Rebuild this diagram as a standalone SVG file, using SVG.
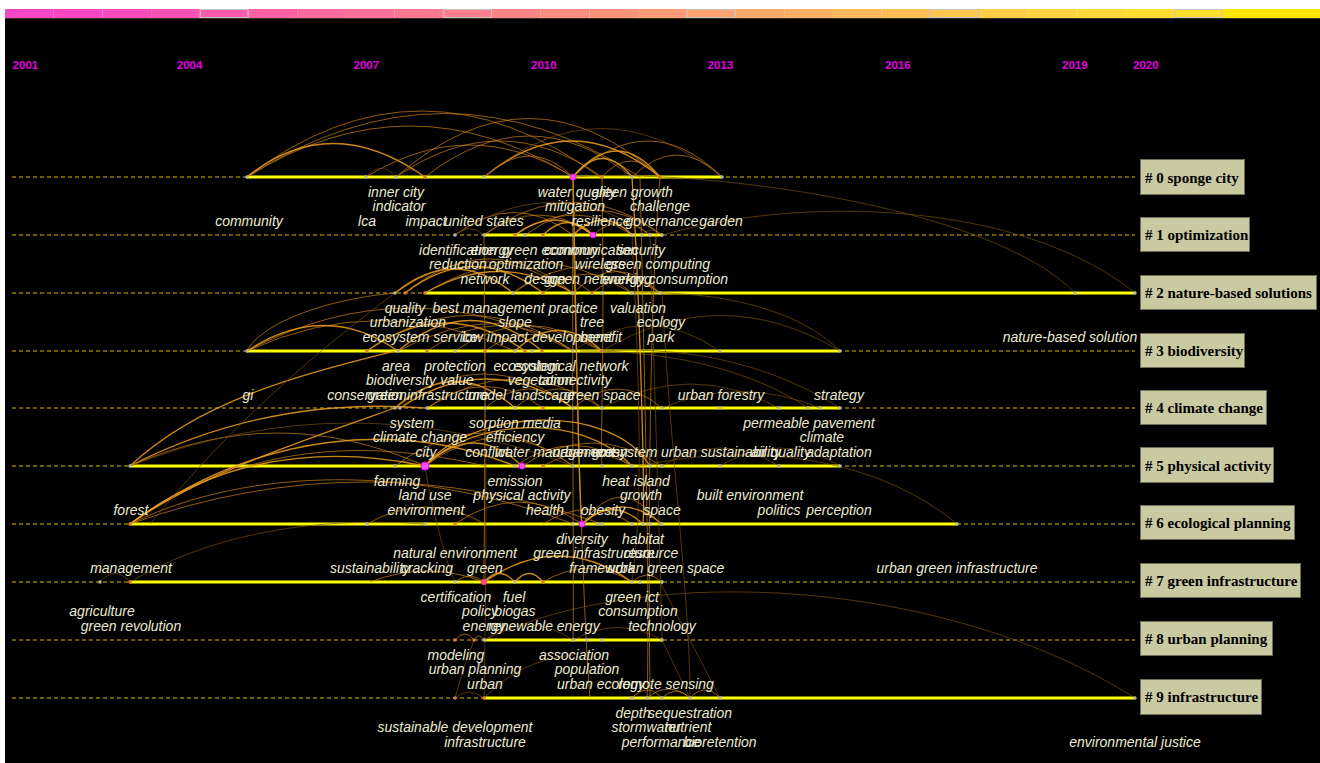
<svg xmlns="http://www.w3.org/2000/svg" width="1320" height="763" viewBox="0 0 1320 763">
<style>
.bg{fill:#000}
.seg{stroke:none}
.segb{fill:none;stroke:#c4c4c4;stroke-width:1}
.yr{font-family:"Liberation Sans",Arial,sans-serif;font-weight:bold;font-size:11.5px;fill:#e000e0}
.dash{stroke:#d8bd00;stroke-width:1;stroke-dasharray:4 3;fill:none}
.solid{stroke:#ffff00;stroke-width:3;fill:none}
.e1{fill:none;stroke:#f0a020;stroke-width:1.3;opacity:.85}
.e2{fill:none;stroke:#cc8214;stroke-width:1;opacity:.7}
.e3{fill:none;stroke:#7a5010;stroke-width:.9;opacity:.75}
.n{fill:#b8b8b0}
.o{fill:#e07a3a}
.m{fill:#ff50ff;stroke:#ff00ff;stroke-width:1}
.lbl{font-family:"Liberation Sans",Arial,sans-serif;font-style:italic;font-size:14px;fill:#ebead2;text-anchor:middle}
.box{fill:#c9c9a2;stroke:#707058;stroke-width:1}
.bt{font-family:"Liberation Serif","Times New Roman",serif;font-weight:bold;font-size:15px;fill:#000}
</style>
<rect x="0" y="0" width="1320" height="763" fill="#fff"/>
<rect class="bg" x="5" y="18" width="1315" height="745"/>
<g id="colorbar">
<rect class="seg" x="5" y="9" width="48.7" height="9" fill="#f646c8"/>
<rect class="seg" x="53.7" y="9" width="48.7" height="9" fill="#f948c2"/>
<rect class="seg" x="102.4" y="9" width="48.7" height="9" fill="#fc4cba"/>
<rect class="seg" x="151.1" y="9" width="48.7" height="9" fill="#ff52b2"/>
<rect class="seg" x="199.8" y="9" width="48.7" height="9" fill="#ff5aab"/>
<rect class="seg" x="248.5" y="9" width="48.7" height="9" fill="#ff62a5"/>
<rect class="seg" x="297.2" y="9" width="48.7" height="9" fill="#ff6aa0"/>
<rect class="seg" x="345.9" y="9" width="48.7" height="9" fill="#ff719a"/>
<rect class="seg" x="394.6" y="9" width="48.7" height="9" fill="#ff7894"/>
<rect class="seg" x="443.3" y="9" width="48.7" height="9" fill="#ff7f8e"/>
<rect class="seg" x="492" y="9" width="48.7" height="9" fill="#ff8688"/>
<rect class="seg" x="540.7" y="9" width="48.7" height="9" fill="#ff8d82"/>
<rect class="seg" x="589.4" y="9" width="48.7" height="9" fill="#ff947c"/>
<rect class="seg" x="638.1" y="9" width="48.7" height="9" fill="#ff9b76"/>
<rect class="seg" x="686.8" y="9" width="48.7" height="9" fill="#ffa270"/>
<rect class="seg" x="735.5" y="9" width="48.7" height="9" fill="#ffa96a"/>
<rect class="seg" x="784.2" y="9" width="48.7" height="9" fill="#ffb064"/>
<rect class="seg" x="832.9" y="9" width="48.7" height="9" fill="#ffb85d"/>
<rect class="seg" x="881.6" y="9" width="48.7" height="9" fill="#ffbf56"/>
<rect class="seg" x="930.3" y="9" width="48.7" height="9" fill="#ffc64f"/>
<rect class="seg" x="979" y="9" width="48.7" height="9" fill="#ffcc48"/>
<rect class="seg" x="1027.7" y="9" width="48.7" height="9" fill="#ffd241"/>
<rect class="seg" x="1076.4" y="9" width="48.7" height="9" fill="#ffd83a"/>
<rect class="seg" x="1125.1" y="9" width="48.7" height="9" fill="#ffdd33"/>
<rect class="seg" x="1173.8" y="9" width="48.7" height="9" fill="#ffe12c"/>
<rect class="seg" x="1222.5" y="9" width="97.5" height="9" fill="#ffe600"/>
<rect class="segb" x="200.3" y="9.5" width="47.7" height="8"/>
<rect class="segb" x="443.8" y="9.5" width="47.7" height="8"/>
<rect class="segb" x="687.3" y="9.5" width="47.7" height="8"/>
<rect class="segb" x="930.8" y="9.5" width="47.7" height="8"/>
<rect class="segb" x="1174.3" y="9.5" width="47.7" height="8"/>
<line x1="5" y1="18.5" x2="1320" y2="18.5" stroke="#3a3020" stroke-width="1"/>
</g>
<g id="years">
<text class="yr" x="12.6" y="69">2001</text>
<text class="yr" x="176.8" y="69">2004</text>
<text class="yr" x="353.5" y="69">2007</text>
<text class="yr" x="531" y="69">2010</text>
<text class="yr" x="707.6" y="69">2013</text>
<text class="yr" x="885" y="69">2016</text>
<text class="yr" x="1062" y="69">2019</text>
<text class="yr" x="1133" y="69">2020</text>
</g>
<g id="timelines">
<line class="dash" x1="12" y1="177" x2="1135" y2="177"/>
<line class="dash" x1="12" y1="235" x2="1135" y2="235"/>
<line class="dash" x1="12" y1="293" x2="1135" y2="293"/>
<line class="dash" x1="12" y1="351" x2="1135" y2="351"/>
<line class="dash" x1="12" y1="408" x2="1135" y2="408"/>
<line class="dash" x1="12" y1="466" x2="1135" y2="466"/>
<line class="dash" x1="12" y1="524" x2="1135" y2="524"/>
<line class="dash" x1="12" y1="582" x2="1135" y2="582"/>
<line class="dash" x1="12" y1="640" x2="1135" y2="640"/>
<line class="dash" x1="12" y1="698" x2="1135" y2="698"/>
<line class="solid" x1="247" y1="177" x2="722" y2="177"/>
<line class="solid" x1="484" y1="235" x2="663" y2="235"/>
<line class="solid" x1="425" y1="293" x2="1135" y2="293"/>
<line class="solid" x1="247" y1="351" x2="840" y2="351"/>
<line class="solid" x1="427" y1="408" x2="840" y2="408"/>
<line class="solid" x1="130" y1="466" x2="840" y2="466"/>
<line class="solid" x1="130" y1="524" x2="957" y2="524"/>
<line class="solid" x1="130" y1="582" x2="663" y2="582"/>
<line class="solid" x1="484" y1="640" x2="663" y2="640"/>
<line class="solid" x1="484" y1="698" x2="1135" y2="698"/>
</g>
<g id="connectors">
<path class="e2" d="M247 177 Q410 75 573 177"/>
<path class="e2" d="M247 177 Q445 50 640 177"/>
<path class="e2" d="M247 177 Q420 45 600 177"/>
<path class="e1" d="M247 177 Q330 110 425 177"/>
<path class="e2" d="M366 177 Q470 113 573 177"/>
<path class="e2" d="M396 177 Q500 105 602 177"/>
<path class="e2" d="M396 177 Q530 60 660 177"/>
<path class="e2" d="M425 177 Q530 95 632 177"/>
<path class="e2" d="M484 177 Q530 135 573 177"/>
<path class="e1" d="M484 177 Q572 105 660 177"/>
<path class="e3" d="M484 177 Q600 80 722 177"/>
<path class="e1" d="M573 177 Q602 140 632 177"/>
<path class="e1" d="M573 177 Q617 125 660 177"/>
<path class="e2" d="M602 177 Q631 145 660 177"/>
<path class="e2" d="M632 177 Q677 133 722 177"/>
<path class="e2" d="M573 177 Q648 105 722 177"/>
<path class="e3" d="M366 177 Q381 160 396 177"/>
<path class="e3" d="M396 177 Q410 162 425 177"/>
<path class="e3" d="M573 177 C700 168 990 205 1075 293"/>
<path class="e3" d="M663 235 C800 195 1020 200 1135 293"/>
<path class="e2" d="M455 235 Q514 190 573 235"/>
<path class="e2" d="M484 235 Q538 195 593 235"/>
<path class="e2" d="M515 235 Q574 195 632 235"/>
<path class="e2" d="M484 235 Q573 170 662 235"/>
<path class="e3" d="M455 235 Q553 170 650 235"/>
<path class="e1" d="M515 235 Q554 205 593 235"/>
<path class="e1" d="M543 235 Q568 210 593 235"/>
<path class="e1" d="M573 235 Q603 205 632 235"/>
<path class="e2" d="M593 235 Q622 210 650 235"/>
<path class="e2" d="M525 235 Q594 185 662 235"/>
<path class="e3" d="M455 235 Q469 222 484 235"/>
<path class="e3" d="M642 235 Q652 225 662 235"/>
<path class="e1" d="M395 293 Q454 245 513 293"/>
<path class="e1" d="M405 293 Q474 240 543 293"/>
<path class="e1" d="M425 293 Q499 250 573 293"/>
<path class="e2" d="M395 293 Q484 230 573 293"/>
<path class="e2" d="M405 293 Q489 225 573 293"/>
<path class="e2" d="M425 293 Q528 230 632 293"/>
<path class="e2" d="M513 293 Q587 240 660 293"/>
<path class="e2" d="M513 293 Q552 260 592 293"/>
<path class="e2" d="M543 293 Q588 255 632 293"/>
<path class="e2" d="M573 293 Q617 250 660 293"/>
<path class="e2" d="M592 293 Q626 265 660 293"/>
<path class="e3" d="M632 293 C720 290 800 310 840 351"/>
<path class="e2" d="M247 351 C260 325 320 300 395 293"/>
<path class="e2" d="M247 351 Q410 265 573 351"/>
<path class="e2" d="M247 351 Q380 290 515 351"/>
<path class="e1" d="M247 351 Q325 300 398 351"/>
<path class="e1" d="M398 351 Q470 290 542 351"/>
<path class="e1" d="M367 351 Q445 295 525 351"/>
<path class="e2" d="M367 351 Q470 280 573 351"/>
<path class="e2" d="M398 351 Q500 295 602 351"/>
<path class="e2" d="M427 351 Q500 300 573 351"/>
<path class="e2" d="M455 351 Q528 300 602 351"/>
<path class="e2" d="M485 351 Q529 318 573 351"/>
<path class="e1" d="M515 351 Q558 310 602 351"/>
<path class="e3" d="M573 351 Q646 300 720 351"/>
<path class="e3" d="M602 351 Q721 280 840 351"/>
<path class="e1" d="M395 408 Q455 355 515 408"/>
<path class="e1" d="M400 408 Q486 350 573 408"/>
<path class="e2" d="M395 408 Q484 340 573 408"/>
<path class="e2" d="M427 408 Q515 350 602 408"/>
<path class="e2" d="M427 408 Q485 365 543 408"/>
<path class="e2" d="M485 408 Q529 370 573 408"/>
<path class="e2" d="M515 408 Q558 370 602 408"/>
<path class="e2" d="M573 408 Q617 370 662 408"/>
<path class="e3" d="M602 408 Q691 360 779 408"/>
<path class="e3" d="M600 351 C700 345 780 370 840 408"/>
<path class="e3" d="M580 351 C680 350 760 375 808 408"/>
<path class="e3" d="M662 408 Q740 375 820 408"/>
<path class="e1" d="M130 466 C200 400 300 375 395 351"/>
<path class="e1" d="M130 466 C220 420 320 400 425 408"/>
<path class="e2" d="M130 466 Q278 400 425 466"/>
<path class="e3" d="M130 466 Q350 380 573 466"/>
<path class="e2" d="M395 466 Q484 400 573 466"/>
<path class="e1" d="M425 466 Q474 420 522 466"/>
<path class="e1" d="M425 466 C470 420 580 410 632 466"/>
<path class="e1" d="M425 466 C470 410 610 400 650 466"/>
<path class="e2" d="M425 466 Q499 410 573 466"/>
<path class="e2" d="M515 466 Q574 425 632 466"/>
<path class="e2" d="M522 466 Q592 420 662 466"/>
<path class="e2" d="M543 466 Q588 440 632 466"/>
<path class="e3" d="M662 466 Q721 430 779 466"/>
<path class="e3" d="M720 466 Q780 430 840 466"/>
<path class="e3" d="M640 466 C760 440 880 460 957 524"/>
<path class="e3" d="M395 466 Q410 455 425 466"/>
<path class="e1" d="M130 524 C200 470 300 440 425 466"/>
<path class="e1" d="M130 524 C260 430 400 420 515 466"/>
<path class="e2" d="M130 524 C220 460 330 430 485 466"/>
<path class="e1" d="M130 524 C200 475 290 445 395 408"/>
<path class="e2" d="M130 524 C250 465 420 465 573 524"/>
<path class="e2" d="M130 524 Q365 440 602 524"/>
<path class="e3" d="M150 524 Q250 400 395 293"/>
<path class="e1" d="M582 524 Q612 495 643 524"/>
<path class="e1" d="M582 524 Q622 490 662 524"/>
<path class="e2" d="M582 524 Q621 470 660 524"/>
<path class="e2" d="M543 524 Q588 495 632 524"/>
<path class="e2" d="M367 524 Q426 490 485 524"/>
<path class="e2" d="M455 524 Q519 480 582 524"/>
<path class="e1" d="M484 582 Q558 530 632 582"/>
<path class="e1" d="M484 582 Q499 565 515 582"/>
<path class="e1" d="M515 582 Q529 565 543 582"/>
<path class="e2" d="M455 582 Q470 570 484 582"/>
<path class="e2" d="M543 582 Q588 555 632 582"/>
<path class="e2" d="M632 582 Q647 568 662 582"/>
<path class="e3" d="M100 582 Q115 565 130 582"/>
<path class="e3" d="M130 582 C200 540 300 515 425 524"/>
<path class="e2" d="M370 582 Q427 560 484 582"/>
<path class="e3" d="M425 466 C430 500 445 560 455 582"/>
<path class="e2" d="M455 640 Q465 628 474 640"/>
<path class="e2" d="M474 640 Q479 632 484 640"/>
<path class="e3" d="M484 640 Q528 610 573 640"/>
<path class="e3" d="M573 640 Q618 615 662 640"/>
<path class="e3" d="M484 640 C650 560 950 580 1135 698"/>
<path class="e2" d="M632 698 Q647 682 662 698"/>
<path class="e2" d="M662 698 Q676 684 690 698"/>
<path class="e2" d="M690 698 Q705 682 720 698"/>
<path class="e2" d="M647 698 Q669 680 690 698"/>
<path class="e3" d="M455 698 Q469 686 484 698"/>
<path class="e3" d="M455 698 Q462 670 474 640"/>
<path class="e3" d="M484 698 Q520 660 573 655"/>
<path class="e1" d="M573 177 C576 300 578 500 582 524"/>
<path class="e2" d="M573 177 C572 400 574 600 573 640"/>
<path class="e2" d="M573 235 C578 400 582 600 590 698"/>
<path class="e2" d="M484 235 C486 400 484 550 484 582"/>
<path class="e3" d="M484 293 C487 450 486 600 484 698"/>
<path class="e1" d="M632 177 C640 300 645 500 643 524"/>
<path class="e2" d="M660 177 C650 300 648 500 650 698"/>
<path class="e2" d="M640 177 C645 400 650 600 647 698"/>
<path class="e3" d="M650 235 C655 400 660 550 662 640"/>
<path class="e2" d="M602 177 C605 350 600 450 602 466"/>
<path class="e3" d="M632 235 C640 400 643 500 632 582"/>
<path class="e3" d="M662 293 C670 450 690 600 690 698"/>
<path class="e3" d="M662 640 L690 698"/>
<path class="e3" d="M660 582 Q690 640 720 698"/>
</g>
<g id="nodes">
<circle class="n" cx="247" cy="177" r="1.7"/><circle class="n" cx="366" cy="177" r="1.7"/><circle class="n" cx="396" cy="177" r="1.7"/><circle class="o" cx="425" cy="177" r="1.8"/><circle class="n" cx="484" cy="177" r="1.7"/><circle class="m" cx="573" cy="177" r="3"/><circle class="o" cx="602" cy="177" r="1.8"/><circle class="n" cx="632" cy="177" r="1.7"/><circle class="o" cx="660" cy="177" r="1.8"/><circle class="n" cx="722" cy="177" r="1.7"/>
<circle class="n" cx="455" cy="235" r="1.7"/><circle class="n" cx="484" cy="235" r="1.7"/><circle class="o" cx="515" cy="235" r="1.8"/><circle class="n" cx="525" cy="235" r="1.7"/><circle class="o" cx="543" cy="235" r="1.8"/><circle class="n" cx="573" cy="235" r="1.7"/><circle class="m" cx="593" cy="235" r="2.8"/><circle class="n" cx="632" cy="235" r="1.7"/><circle class="n" cx="642" cy="235" r="1.7"/><circle class="n" cx="650" cy="235" r="1.7"/><circle class="n" cx="662" cy="235" r="1.7"/>
<circle class="n" cx="395" cy="293" r="1.7"/><circle class="o" cx="405" cy="293" r="1.8"/><circle class="o" cx="425" cy="293" r="1.8"/><circle class="n" cx="513" cy="293" r="1.7"/><circle class="o" cx="543" cy="293" r="1.8"/><circle class="n" cx="573" cy="293" r="1.7"/><circle class="o" cx="592" cy="293" r="1.8"/><circle class="n" cx="602" cy="293" r="1.7"/><circle class="n" cx="632" cy="293" r="1.7"/><circle class="n" cx="660" cy="293" r="1.7"/><circle class="n" cx="1075" cy="293" r="1.7"/><circle class="n" cx="1135" cy="293" r="1.7"/>
<circle class="n" cx="247" cy="351" r="1.7"/><circle class="o" cx="367" cy="351" r="1.8"/><circle class="n" cx="398" cy="351" r="1.7"/><circle class="o" cx="427" cy="351" r="1.8"/><circle class="n" cx="455" cy="351" r="1.7"/><circle class="o" cx="485" cy="351" r="1.8"/><circle class="n" cx="515" cy="351" r="1.7"/><circle class="o" cx="525" cy="351" r="1.8"/><circle class="n" cx="532" cy="351" r="1.7"/><circle class="o" cx="542" cy="351" r="1.8"/><circle class="n" cx="573" cy="351" r="1.7"/><circle class="o" cx="602" cy="351" r="1.8"/><circle class="n" cx="720" cy="351" r="1.7"/><circle class="n" cx="840" cy="351" r="1.7"/>
<circle class="n" cx="395" cy="408" r="1.7"/><circle class="n" cx="400" cy="408" r="1.7"/><circle class="n" cx="427" cy="408" r="1.7"/><circle class="n" cx="485" cy="408" r="1.7"/><circle class="n" cx="515" cy="408" r="1.7"/><circle class="o" cx="543" cy="408" r="1.8"/><circle class="n" cx="573" cy="408" r="1.7"/><circle class="n" cx="602" cy="408" r="1.7"/><circle class="n" cx="662" cy="408" r="1.7"/><circle class="n" cx="720" cy="408" r="1.7"/><circle class="n" cx="779" cy="408" r="1.7"/><circle class="n" cx="808" cy="408" r="1.7"/><circle class="n" cx="820" cy="408" r="1.7"/><circle class="n" cx="840" cy="408" r="1.7"/>
<circle class="n" cx="130" cy="466" r="1.7"/><circle class="n" cx="395" cy="466" r="1.7"/><circle class="m" cx="425" cy="466" r="4"/><circle class="n" cx="515" cy="466" r="1.7"/><circle class="m" cx="522" cy="466" r="3"/><circle class="o" cx="543" cy="466" r="1.8"/><circle class="n" cx="573" cy="466" r="1.7"/><circle class="n" cx="602" cy="466" r="1.7"/><circle class="n" cx="632" cy="466" r="1.7"/><circle class="n" cx="650" cy="466" r="1.7"/><circle class="n" cx="662" cy="466" r="1.7"/><circle class="n" cx="720" cy="466" r="1.7"/><circle class="n" cx="779" cy="466" r="1.7"/><circle class="n" cx="840" cy="466" r="1.7"/>
<circle class="o" cx="130" cy="524" r="1.8"/><circle class="n" cx="367" cy="524" r="1.7"/><circle class="n" cx="425" cy="524" r="1.7"/><circle class="o" cx="455" cy="524" r="1.8"/><circle class="n" cx="573" cy="524" r="1.7"/><circle class="m" cx="582" cy="524" r="3"/><circle class="n" cx="597" cy="524" r="1.7"/><circle class="n" cx="602" cy="524" r="1.7"/><circle class="n" cx="632" cy="524" r="1.7"/><circle class="n" cx="643" cy="524" r="1.7"/><circle class="n" cx="650" cy="524" r="1.7"/><circle class="n" cx="662" cy="524" r="1.7"/><circle class="n" cx="957" cy="524" r="1.7"/>
<circle class="n" cx="100" cy="582" r="1.7"/><circle class="o" cx="130" cy="582" r="1.8"/><circle class="n" cx="455" cy="582" r="1.7"/><circle class="m" cx="484" cy="582" r="2.8" style="fill:#ff5080;stroke:#ff3070"/><circle class="n" cx="515" cy="582" r="1.7"/><circle class="o" cx="543" cy="582" r="1.8"/><circle class="n" cx="632" cy="582" r="1.7"/><circle class="n" cx="640" cy="582" r="1.7"/><circle class="n" cx="662" cy="582" r="1.7"/>
<circle class="o" cx="455" cy="640" r="1.8"/><circle class="o" cx="474" cy="640" r="1.8"/><circle class="n" cx="484" cy="640" r="1.7"/><circle class="n" cx="573" cy="640" r="1.7"/><circle class="n" cx="587" cy="640" r="1.7"/><circle class="n" cx="602" cy="640" r="1.7"/><circle class="n" cx="662" cy="640" r="1.7"/>
<circle class="o" cx="455" cy="698" r="1.8"/><circle class="o" cx="484" cy="698" r="1.8"/><circle class="n" cx="632" cy="698" r="1.7"/><circle class="n" cx="647" cy="698" r="1.7"/><circle class="n" cx="662" cy="698" r="1.7"/><circle class="n" cx="690" cy="698" r="1.7"/><circle class="n" cx="720" cy="698" r="1.7"/><circle class="n" cx="1135" cy="698" r="1.7"/>
</g>
<g id="labels">
<text class="lbl" x="396" y="197">inner city</text>
<text class="lbl" x="399" y="211">indicator</text>
<text class="lbl" x="367" y="226">lca</text>
<text class="lbl" x="249" y="226">community</text>
<text class="lbl" x="426" y="226">impact</text>
<text class="lbl" x="484" y="226">united states</text>
<text class="lbl" x="577" y="197">water quality</text>
<text class="lbl" x="632" y="197">green growth</text>
<text class="lbl" x="575" y="211">mitigation</text>
<text class="lbl" x="660" y="211">challenge</text>
<text class="lbl" x="601" y="226">resilience</text>
<text class="lbl" x="662" y="226">governance</text>
<text class="lbl" x="721" y="226">garden</text>

<text class="lbl" x="458" y="255">identification</text>
<text class="lbl" x="492" y="255">energy</text>
<text class="lbl" x="550" y="255">green economy</text>
<text class="lbl" x="591" y="255">communication</text>
<text class="lbl" x="641" y="255">security</text>
<text class="lbl" x="458" y="269">reduction</text>
<text class="lbl" x="526" y="269">optimization</text>
<text class="lbl" x="600" y="269">wireless</text>
<text class="lbl" x="658" y="269">green computing</text>
<text class="lbl" x="485" y="284">network</text>
<text class="lbl" x="545" y="284">design</text>
<text class="lbl" x="598" y="284">green networking</text>
<text class="lbl" x="665" y="284">energy consumption</text>

<text class="lbl" x="405" y="313">quality</text>
<text class="lbl" x="515" y="313">best management practice</text>
<text class="lbl" x="638" y="313">valuation</text>
<text class="lbl" x="408" y="327">urbanization</text>
<text class="lbl" x="515" y="327">slope</text>
<text class="lbl" x="592" y="327">tree</text>
<text class="lbl" x="661" y="327">ecology</text>
<text class="lbl" x="420" y="342">ecosystem service</text>
<text class="lbl" x="537" y="342">low impact development</text>
<text class="lbl" x="601" y="342">benefit</text>
<text class="lbl" x="661" y="342">park</text>
<text class="lbl" x="1070" y="342">nature-based solution</text>

<text class="lbl" x="396" y="371">area</text>
<text class="lbl" x="455" y="371">protection</text>
<text class="lbl" x="527" y="371">ecosystem</text>
<text class="lbl" x="571" y="371">ecological network</text>
<text class="lbl" x="401" y="385">biodiversity</text>
<text class="lbl" x="457" y="385">value</text>
<text class="lbl" x="540" y="385">vegetation</text>
<text class="lbl" x="575" y="385">connectivity</text>
<text class="lbl" x="367" y="400">conservation</text>
<text class="lbl" x="428" y="400">green infrastructure</text>
<text class="lbl" x="487" y="400">model</text>
<text class="lbl" x="543" y="400">landscape</text>
<text class="lbl" x="602" y="400">green space</text>
<text class="lbl" x="721" y="400">urban forestry</text>
<text class="lbl" x="839" y="400">strategy</text>
<text class="lbl" x="248" y="400">gi</text>

<text class="lbl" x="412" y="428">system</text>
<text class="lbl" x="515" y="428">sorption media</text>
<text class="lbl" x="809" y="428">permeable pavement</text>
<text class="lbl" x="420" y="442">climate change</text>
<text class="lbl" x="515" y="442">efficiency</text>
<text class="lbl" x="822" y="442">climate</text>
<text class="lbl" x="426" y="457">city</text>
<text class="lbl" x="487" y="457">conflict</text>
<text class="lbl" x="555" y="457">water management</text>
<text class="lbl" x="590" y="457">urban green</text>
<text class="lbl" x="624" y="457">ecosystem</text>
<text class="lbl" x="721" y="457">urban sustainability</text>
<text class="lbl" x="781" y="457">air quality</text>
<text class="lbl" x="839" y="457">adaptation</text>

<text class="lbl" x="397" y="486">farming</text>
<text class="lbl" x="515" y="486">emission</text>
<text class="lbl" x="636" y="486">heat island</text>
<text class="lbl" x="425" y="500">land use</text>
<text class="lbl" x="522" y="500">physical activity</text>
<text class="lbl" x="641" y="500">growth</text>
<text class="lbl" x="750" y="500">built environment</text>
<text class="lbl" x="426" y="515">environment</text>
<text class="lbl" x="545" y="515">health</text>
<text class="lbl" x="603" y="515">obesity</text>
<text class="lbl" x="662" y="515">space</text>
<text class="lbl" x="779" y="515">politics</text>
<text class="lbl" x="839" y="515">perception</text>
<text class="lbl" x="131" y="515">forest</text>

<text class="lbl" x="582" y="544">diversity</text>
<text class="lbl" x="643" y="544">habitat</text>
<text class="lbl" x="455" y="558">natural environment</text>
<text class="lbl" x="594" y="558">green infrastructure</text>
<text class="lbl" x="651" y="558">resource</text>
<text class="lbl" x="370" y="573">sustainability</text>
<text class="lbl" x="427" y="573">cracking</text>
<text class="lbl" x="485" y="573">green</text>
<text class="lbl" x="602" y="573">framework</text>
<text class="lbl" x="666" y="573">urban green space</text>
<text class="lbl" x="131" y="573">management</text>
<text class="lbl" x="957" y="573">urban green infrastructure</text>

<text class="lbl" x="456" y="602">certification</text>
<text class="lbl" x="514" y="602">fuel</text>
<text class="lbl" x="632" y="602">green ict</text>
<text class="lbl" x="480" y="616">policy</text>
<text class="lbl" x="515" y="616">biogas</text>
<text class="lbl" x="638" y="616">consumption</text>
<text class="lbl" x="102" y="616">agriculture</text>
<text class="lbl" x="484" y="631">energy</text>
<text class="lbl" x="544" y="631">renewable energy</text>
<text class="lbl" x="662" y="631">technology</text>
<text class="lbl" x="131" y="631">green revolution</text>

<text class="lbl" x="456" y="660">modeling</text>
<text class="lbl" x="574" y="660">association</text>
<text class="lbl" x="475" y="674">urban planning</text>
<text class="lbl" x="587" y="674">population</text>
<text class="lbl" x="485" y="689">urban</text>
<text class="lbl" x="601" y="689">urban ecology</text>
<text class="lbl" x="666" y="689">remote sensing</text>

<text class="lbl" x="633" y="718">depth</text>
<text class="lbl" x="690" y="718">sequestration</text>
<text class="lbl" x="455" y="732">sustainable development</text>
<text class="lbl" x="646" y="732">stormwater</text>
<text class="lbl" x="688" y="732">nutrient</text>
<text class="lbl" x="485" y="747">infrastructure</text>
<text class="lbl" x="661" y="747">performance</text>
<text class="lbl" x="720" y="747">bioretention</text>
<text class="lbl" x="1135" y="747">environmental justice</text>
</g>
<g id="cluster0"><rect class="box" x="1140.5" y="159.5" width="104" height="35"/><text class="bt" x="1145" y="183">#&#160;0 sponge city</text></g>
<g id="cluster1"><rect class="box" x="1140.5" y="217.5" width="109" height="34"/><text class="bt" x="1145" y="240">#&#160;1 optimization</text></g>
<g id="cluster2"><rect class="box" x="1140.5" y="275.5" width="176" height="34"/><text class="bt" x="1145" y="298">#&#160;2 nature-based solutions</text></g>
<g id="cluster3"><rect class="box" x="1140.5" y="333.5" width="104" height="34"/><text class="bt" x="1145" y="356">#&#160;3 biodiversity</text></g>
<g id="cluster4"><rect class="box" x="1140.5" y="390.5" width="126" height="34"/><text class="bt" x="1145" y="413">#&#160;4 climate change</text></g>
<g id="cluster5"><rect class="box" x="1140.5" y="447.5" width="133" height="35"/><text class="bt" x="1145" y="471">#&#160;5 physical activity</text></g>
<g id="cluster6"><rect class="box" x="1140.5" y="505.5" width="154" height="34"/><text class="bt" x="1145" y="528">#&#160;6 ecological planning</text></g>
<g id="cluster7"><rect class="box" x="1140.5" y="563.5" width="160" height="34"/><text class="bt" x="1145" y="586">#&#160;7 green infrastructure</text></g>
<g id="cluster8"><rect class="box" x="1140.5" y="621.5" width="132" height="34"/><text class="bt" x="1145" y="644">#&#160;8 urban planning</text></g>
<g id="cluster9"><rect class="box" x="1140.5" y="679.5" width="121" height="35"/><text class="bt" x="1145" y="702">#&#160;9 infrastructure</text></g>
</svg>
